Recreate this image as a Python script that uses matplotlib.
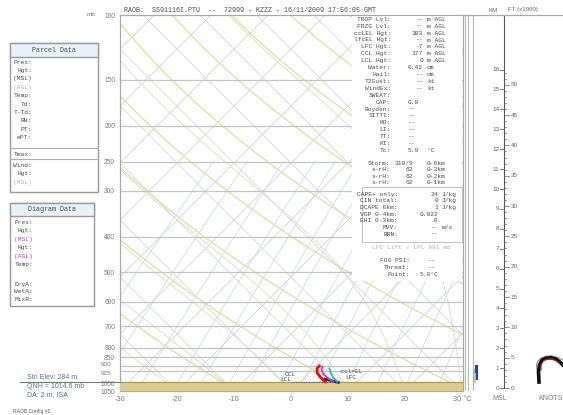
import numpy as np
import matplotlib.pyplot as plt
import matplotlib.transforms as mtransforms
from matplotlib.patches import Rectangle
from matplotlib.ticker import NullLocator

W, H = 563, 415
K = 28.06  # skew of the diagram, deg C per unit ln(p)
MONO = "Liberation Mono"
SANS = "Liberation Sans"

# axis values
p_levels = [100, 150, 200, 250, 300, 400, 500, 600, 700, 800, 850, 900, 925, 1000, 1050]
t_ticks = [-30, -20, -10, 0, 10, 20, 30]
t_labels = ["-30", "-20", "-10", "0", "10", "20", "30 °C"]

# sounding traces (hPa, deg C)
temp_p = [898, 911, 937, 964, 991]
temp_t = [0.6, 0.6, 1.4, 2.8, 4.4]
virt_p = [903, 915, 942, 970, 991]
virt_t = [1.3, 1.5, 2.6, 4.3, 5.8]
parcel_p = [912, 937, 964, 991]
parcel_t = [2.8, 3.8, 5.0, 6.5]
base_p = [975, 995]
base_t = [3.9, 6.8]
lcl_p = 992
lcl_t = [-1.3, 5.5]
stn_pres = 990

# km / ft height scale
km_ticks = list(range(0, 17))
ft_ticks = list(range(0, 53))

# wind trace in the right panel (x offset, km)
wind_x = [60, 59.5, 60.5, 63, 67, 72, 77, 81, 84]
wind_km = [0.3, 0.8, 1.15, 1.4, 1.5, 1.52, 1.45, 1.3, 1.15]
wind_red_x = [62, 62, 64, 68, 72, 76, 80]
wind_red_km = [0.9, 1.15, 1.35, 1.45, 1.47, 1.4, 1.28]
wind_out_x = [58, 57.5, 59, 62, 67, 72, 78, 84]
wind_out_km = [0.9, 1.15, 1.35, 1.5, 1.6, 1.62, 1.55, 1.4]

# side strip marks (hPa)
strip_blue_p = [898, 966]
strip_green_p = [920, 995]
strip_lime_p = [945, 990]

# info panel
info_labels = ["TROP Lvl:", "FRZG Lvl:", "ccLEL Hgt:", "lfcEL Hgt:", "LFC Hgt:", "CCL Hgt:",
               "LCL Hgt:", "Water:", "Hail:", "T2Gust:", "WindEx:", "SWEAT:", "CAP:",
               "Boyden:", "SITTI:", "KO:", "LI:", "TT:", "KI:", "Tc:"]
info_values = ["--", "--", "383", "--", "-7", "177", "0", "0.42", "--", "--", "--", "",
               "0.0", "--", "--", "--", "--", "--", "--", "5.9"]
info_units = ["m AGL"] * 7 + ["cm", "cm", "kt", "kt"] + [""] * 8 + ["°C"]
storm_labels = ["Storm:", "s-rH:", "s-rH:", "s-rH:"]
storm_values = ["310/9", "62", "62", "62"]
storm_layers = ["0-6km", "0-3km", "0-2km", "0-1km"]
cape_labels = ["CAPE+ only:", "CIN total:", "DCAPE 6km:", "VGP 0-4km:", "EHI 0-3km:", "MVV:", "BRN:"]
cape_values = ["24", "0", "1", "0.022", ".0", "--", "--"]
cape_units = ["J/kg", "J/kg", "J/kg", "", "", "m/s", ""]
fog_labels = ["FOG PSI:", "Threat:", "Point:"]
fog_values = ["  --", "  --", "5.0°C"]

parcel_rows = ["Pres:", "Hgt:", "(MSL)", "(AGL)", "Temp:", "Td:", "T-Td:", "RH:", "PT:", "ePT:"]
diagram_rows = ["Pres:", "Hgt:", "(MSL)", "Hgt:", "(AGL)", "Temp:"]


def skew(t, p):
    return np.asarray(t, float) + K * np.log(1050.0 / np.asarray(p, float))


def es(tc):
    return 6.112 * np.exp(17.67 * tc / (tc + 243.5))


def moist_line(t0):
    Rd, cp, Lv, eps = 287.04, 1005.7, 2.501e6, 0.622
    ps = np.arange(1050.0, 99.0, -2.0)
    ts = [t0]
    for i in range(1, len(ps)):
        T = ts[-1] + 273.15
        e = es(ts[-1])
        rs = eps * e / (ps[i - 1] - e)
        dtdp = (Rd * T + Lv * rs) / (ps[i - 1] * (cp + Lv ** 2 * rs * eps / (Rd * T ** 2)))
        ts.append(ts[-1] + dtdp * (ps[i] - ps[i - 1]))
    return ps, np.array(ts)


fig = plt.figure(figsize=(W / 100, H / 100), dpi=100)

# main skew-T axes
ax = fig.add_axes([120 / W, 24 / H, 343 / W, 376 / H])
ax.set_yscale("log")
ax.set_ylim(1050, 100)
ax.set_xlim(-30, 30.2)

pp = np.logspace(np.log10(1050), 2, 200)
for t in range(-100, 40, 10):
    ax.plot(skew(t, pp), pp, color="#d2d2d2", lw=0.6, zorder=1)
for c in range(-30, 100, 10):
    ax.plot(c - K * np.log(1050 / pp), pp, color="#d6d6d6", lw=0.6, zorder=1)
for th in range(240, 480, 20):
    tt = th * (pp / 1000.0) ** 0.286 - 273.15
    ax.plot(skew(tt, pp), pp, color="#e4dc9c", lw=0.9, zorder=1)
for t0 in range(-30, 44, 10):
    mp, mt = moist_line(t0)
    ax.plot(skew(mt, mp), mp, color="#d4e7c2", lw=0.7, zorder=1)
pw = np.logspace(np.log10(1050), np.log10(250), 60)
for w in [0.1, 0.2, 0.4, 0.7, 1, 1.5, 2, 3, 4, 5, 7, 10, 14, 20]:
    e = w * pw / (622 + w)
    lg = np.log(e / 6.112)
    td = 243.5 * lg / (17.67 - lg)
    ax.plot(skew(td, pw), pw, color="#cadcec", lw=0.6, zorder=1)

for p in p_levels[1:-1]:
    ax.axhline(p, color="#c4c4c4", lw=0.9, zorder=2)

ax.axhspan(stn_pres, 1050, color="#dccb8e", zorder=3)
ax.axhline(stn_pres, color="#a8985a", lw=0.8, zorder=3)

# sounding traces
ax.plot(skew(lcl_t, [lcl_p, lcl_p]), [lcl_p, lcl_p], color="#34497a", lw=0.7, ls=":", zorder=4)
ax.plot(skew(base_t, base_p), base_p, color="#1c2a66", lw=2.0, zorder=5)
ax.plot(skew(parcel_t, parcel_p), parcel_p, color="#3cb4b4", lw=1.4, zorder=5)
ax.plot(skew(virt_t, virt_p), virt_p, color="#c83cc8", lw=1.4, zorder=5)
ax.plot(skew(temp_t, temp_p), temp_p, color="#e01010", lw=2.0, zorder=6)
for s, t, p, ha in [("CCL", -3.9, 950, "left"), ("LCL", -3.9, 978, "left"),
                    ("-ccl=EL", 4.6, 927, "left"), ("LFC", 7.1, 965, "left")]:
    ax.text(skew(t, p), p, s, fontsize=4.3, family=MONO, color="#34497a",
            ha=ha, va="center", zorder=7)

# pressure labels (900/925 nudged apart, they sit very close)
ax.set_yticks(p_levels)
ax.set_yticklabels(["" if p in (900, 925) else str(p) for p in p_levels])
ytr = ax.get_yaxis_transform()
for p, dy in [(900, 2.0), (925, -2.5)]:
    ax.text(-0.02, p, str(p), transform=mtransforms.offset_copy(ytr, fig, x=-1.5, y=dy, units="dots"),
            ha="right", va="center", fontsize=4.6, family=SANS, color="#7a7a7a")
ax.yaxis.set_minor_locator(NullLocator())
ax.set_xticks(t_ticks)
ax.set_xticklabels(t_labels)
ax.tick_params(length=0, labelsize=5.3, labelcolor="#7a7a7a", pad=3.5)
ax.tick_params(axis="y", labelsize=4.8)
for lab in ax.get_xticklabels() + ax.get_yticklabels():
    lab.set_family(SANS)
for sp in ax.spines.values():
    sp.set_color("#a8a8a8")
    sp.set_linewidth(0.9)

# side strips
sax = fig.add_axes([463 / W, 24 / H, 16 / W, 376 / H])
sax.set_yscale("log")
sax.set_ylim(1050, 100)
sax.set_xlim(0, 16)
sax.axis("off")
for xv in [1.5, 4.5, 9.5, 15.8]:
    sax.axvline(xv, color="#b8b8b8", lw=0.8)
sax.plot([13, 13], strip_blue_p, color="#2040c0", lw=2.2)
sax.plot([10.8, 10.8], strip_green_p, color="#86cc86", lw=1.6)
sax.plot([12, 12], strip_lime_p, color="#c8dc80", lw=1.2)

# height scale panel
rax = fig.add_axes([479 / W, 24 / H, 84 / W, 376 / H])
rax.set_xlim(0, 84)
rax.set_ylim(-3 / 19.9, 373 / 19.9)
rax.axis("off")
rax.plot([25, 25], [0, 373 / 19.9], color="#555555", lw=0.8)
for k in km_ticks:
    rax.plot([21, 25], [k, k], color="#666666", lw=0.6)
    rax.text(20.5, k, str(k), ha="right", va="center", fontsize=4.6, family=SANS, color="#666666")
for f in ft_ticks:
    km = f * 0.3048
    ln = 5 if f % 5 == 0 else 2
    rax.plot([25, 25 + ln], [km, km], color="#666666", lw=0.5)
    if f % 5 == 0 and f <= 50:
        rax.text(31.5, km, str(f), ha="left", va="center", fontsize=4.6, family=SANS, color="#666666")
rax.plot(wind_out_x, wind_out_km, color="#8a8a8a", lw=0.8)
rax.plot(wind_x, wind_km, color="#111111", lw=2.6)
rax.plot(wind_red_x, wind_red_km, color="#c02020", lw=0.8)

# overlay in pixel coordinates for boxes and text
ov = fig.add_axes([0, 0, 1, 1])
ov.set_xlim(0, W)
ov.set_ylim(H, 0)
ov.axis("off")


def txt(x, y, s, size=4.5, color="#4a4a4a", ha="left", family=MONO, **kw):
    ov.text(x, y, s, fontsize=size, color=color, ha=ha, va="center", family=family, **kw)


ov.plot([463, 563], [15, 15], color="#a8a8a8", lw=0.9)
ov.add_patch(Rectangle((352, 15.6), 110.4, 265, facecolor="white", edgecolor="none", zorder=1))
ov.add_patch(Rectangle((362, 187), 100.4, 55, facecolor="none", edgecolor="#c4c4c4", lw=0.8, zorder=2))

txt(124, 10, "RAOB:  SS91116I.PTU  --  72999 - KZZZ - 16/11/2009 17:56:05 GMT", size=4.8)
txt(95, 14, "mb", size=4.6, ha="right", family=SANS, color="#777777")
txt(493, 10, "KM", size=4.4, ha="center", family=SANS, color="#666666")
txt(508, 10, "FT (x1000)", size=4.4, family=SANS, color="#666666")
txt(500, 398, "MSL", size=5, ha="center", family=SANS, color="#7a7a7a")
txt(551, 398, "KNOTS", size=5, ha="center", family=SANS, color="#7a7a7a")

for i, (lab, val, unit) in enumerate(zip(info_labels, info_values, info_units)):
    y = 19.3 + i * 6.9
    txt(391, y, lab, ha="right", zorder=3)
    if i <= 10:
        txt(423, y, val, ha="right", zorder=3)
    else:
        txt(408, y, val, zorder=3)
    txt(427, y, unit, zorder=3)
for i, (lab, val, lay) in enumerate(zip(storm_labels, storm_values, storm_layers)):
    y = 163.3 + i * 6.5
    txt(390, y, lab, ha="right", zorder=3)
    txt(413, y, val, ha="right", zorder=3)
    txt(427, y, lay, zorder=3)
for i, (lab, val, unit) in enumerate(zip(cape_labels, cape_values, cape_units)):
    y = 194 + i * 6.67
    txt(398, y, lab, ha="right", zorder=3)
    txt(438, y, val, ha="right", zorder=3)
    txt(442, y, unit, zorder=3)
txt(411, 247.3, "LFC Lift / LPL 991 mb", ha="center", color="#b0b0b0", zorder=3)
for i, (lab, val) in enumerate(zip(fog_labels, fog_values)):
    y = 260.7 + i * 6.67
    txt(410, y, lab, ha="right", zorder=3)
    txt(420, y, val, zorder=3)

# parcel data box
ov.add_patch(Rectangle((10, 43), 88, 149, facecolor="white", edgecolor="#9a9a9a", lw=1))
ov.add_patch(Rectangle((10, 43), 88, 14, facecolor="#e8f1fa", edgecolor="#9a9a9a", lw=1))
txt(54, 50, "Parcel Data", ha="center", size=4.8)
for i, lab in enumerate(parcel_rows):
    txt(32, 62 + i * 8.4, lab, ha="right", color="#b4b4b4" if lab == "(AGL)" else "#4a4a4a")
ov.plot([10, 98], [148, 148], color="#b0b0b0", lw=0.8)
ov.plot([10, 98], [159, 159], color="#b0b0b0", lw=0.8)
txt(32, 154, "Tmax:", ha="right")
txt(32, 165, "Wind:", ha="right")
txt(32, 173.5, "Hgt:", ha="right")
txt(32, 182, "(MSL)", ha="right", color="#b4b4b4")

# diagram data box
ov.add_patch(Rectangle((10, 203), 84, 103, facecolor="white", edgecolor="#9a9a9a", lw=1))
ov.add_patch(Rectangle((10, 203), 84, 13, facecolor="#e8f1fa", edgecolor="#9a9a9a", lw=1))
txt(52, 209.5, "Diagram Data", ha="center", size=4.8)
for i, lab in enumerate(diagram_rows):
    txt(33, 222 + i * 8.5, lab, ha="right", color="#a050a8" if lab.startswith("(") else "#4a4a4a")
for i, lab in enumerate(["DryA:", "WetA:", "MixR:"]):
    txt(33, 284 + i * 7.7, lab, ha="right")

# station info
ov.plot([20, 120], [382, 382], color="#6e7f6e", lw=0.8)
txt(27, 377, "Stn Elev: 284 m", size=5, family=SANS, color="#5a6f8c")
txt(27, 386.5, "QNH = 1014.6 mb", size=5, family=SANS, color="#5a6f8c")
txt(27, 395, "DA: 2 m, ISA", size=5, family=SANS, color="#5a6f8c")
txt(13, 411, "RAOB Config #1:", size=3.6, family=SANS, color="#555555")

fig.savefig("out.png", dpi=100)
